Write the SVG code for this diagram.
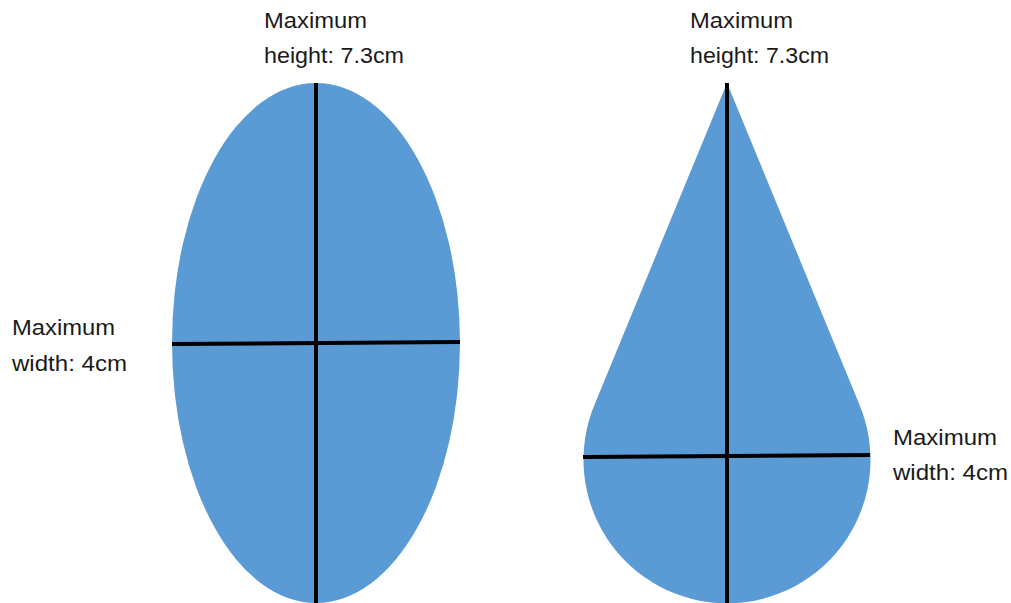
<svg xmlns="http://www.w3.org/2000/svg" width="1011" height="603" viewBox="0 0 1011 603">
<style>
.shape{fill:#5B9BD5;stroke:none}
.axis{stroke:#000;stroke-width:4;fill:none}
.lbl{font-family:"Liberation Sans",Arial,sans-serif;font-size:22px;fill:#1a1a1a}
</style>
<rect width="1011" height="603" fill="#fff"/>
<g id="ellipse">
<ellipse class="shape" cx="316" cy="343" rx="144" ry="260"/>
</g>
<g id="teardrop">
<path class="shape" d="M727,83 L595,403.5 A143.5,143.5 0 1 0 859,403.5 Z"/>
</g>
<g id="connectors">
<line class="axis" x1="316" y1="83" x2="316" y2="603"/>
<line class="axis" x1="172" y1="344" x2="460" y2="342"/>
<line class="axis" x1="727" y1="83" x2="727" y2="603"/>
<line class="axis" x1="583" y1="457" x2="870" y2="455"/>
</g>
<g id="label-ellipse-height">
<text class="lbl" x="264" y="28" textLength="103" lengthAdjust="spacingAndGlyphs">Maximum</text>
<text class="lbl" x="264" y="63" textLength="140" lengthAdjust="spacingAndGlyphs">height: 7.3cm</text>
</g>
<g id="label-ellipse-width">
<text class="lbl" x="12" y="335" textLength="103" lengthAdjust="spacingAndGlyphs">Maximum</text>
<text class="lbl" x="12" y="371" textLength="115" lengthAdjust="spacingAndGlyphs">width: 4cm</text>
</g>
<g id="label-drop-height">
<text class="lbl" x="690" y="28" textLength="103" lengthAdjust="spacingAndGlyphs">Maximum</text>
<text class="lbl" x="690" y="63" textLength="139" lengthAdjust="spacingAndGlyphs">height: 7.3cm</text>
</g>
<g id="label-drop-width">
<text class="lbl" x="893" y="445" textLength="104" lengthAdjust="spacingAndGlyphs">Maximum</text>
<text class="lbl" x="893" y="480" textLength="115" lengthAdjust="spacingAndGlyphs">width: 4cm</text>
</g>
</svg>
